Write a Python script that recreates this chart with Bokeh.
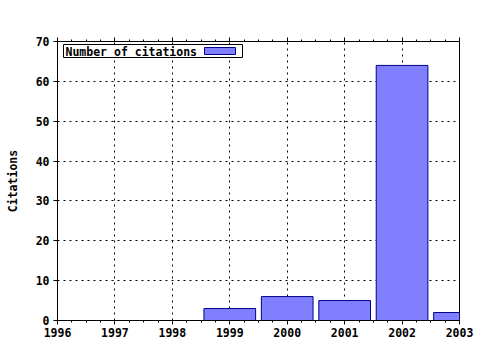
from bokeh.plotting import figure
from bokeh.models import LinearAxis, Range1d, BoxAnnotation, Label, SingleIntervalTicker, CustomJSTickFormatter
from bokeh.embed import file_html
from bokeh.resources import INLINE

# ---- data ----
years = [1999, 2000, 2001, 2002, 2003]
citations = [3, 6, 5, 64, 2]
x_start, x_end = 1996, 2003
y_start, y_end = 0, 70
legend_label = "Number of citations"
y_label = "Citations"

# ---- layout ----
W, H = 480, 350
L, R, T, B = 57, 21, 41, 30
FONT = "DejaVu Sans Mono"
FS = "11.5px"
BAR_FILL = "#8080ff"
BAR_LINE = "#00008c"

p = figure(width=W, height=H, x_range=Range1d(x_start, x_end), y_range=Range1d(y_start, y_end),
           output_backend="svg", toolbar_location=None,
           min_border_left=L, min_border_right=R, min_border_top=T, min_border_bottom=B)
p.background_fill_color = "white"
p.border_fill_color = "white"
p.outline_line_color = "black"
p.outline_line_width = 1

xticker = SingleIntervalTicker(interval=1, num_minor_ticks=4)
yticker = SingleIntervalTicker(interval=10, num_minor_ticks=0)

p.xaxis.ticker = xticker
p.yaxis.ticker = yticker
p.xgrid.ticker = xticker
p.ygrid.ticker = yticker
for g in (p.xgrid, p.ygrid):
    g.grid_line_color = "black"
    g.grid_line_dash = "2 4"
    g.grid_line_width = 1
    g.grid_line_alpha = 1

for ax in (p.xaxis[0], p.yaxis[0]):
    ax.axis_line_color = "black"
    ax.major_tick_line_color = "black"
    ax.minor_tick_line_color = "black"
    ax.major_tick_in = 0
    ax.major_tick_out = 4
    ax.minor_tick_in = 0
    ax.minor_tick_out = 2
    ax.major_label_text_font = FONT
    ax.major_label_text_font_style = "bold"
    ax.major_label_text_font_size = FS
    ax.major_label_text_color = "black"

p.xaxis.major_label_standoff = 3
p.yaxis.major_label_standoff = 4
p.yaxis.axis_label = y_label
p.yaxis.axis_label_text_font = FONT
p.yaxis.axis_label_text_font_style = "bold"
p.yaxis.axis_label_text_font_size = FS
p.yaxis.axis_label_text_color = "black"
p.yaxis.axis_label_standoff = 13

# mirrored tick marks on the top edge, without labels
top = LinearAxis(ticker=xticker, formatter=CustomJSTickFormatter(code="return ''"),
                 axis_line_color=None,
                 major_tick_in=0, major_tick_out=4, minor_tick_in=0, minor_tick_out=2,
                 major_tick_line_color="black", minor_tick_line_color="black",
                 major_label_standoff=0)
p.add_layout(top, "above")

p.vbar(x=years, top=citations, width=0.9, bottom=0,
       fill_color=BAR_FILL, line_color=BAR_LINE, line_width=1)

# ---- legend (gnuplot style: label then swatch) ----
fw = W - L - R
fh = H - T - B
def px_x(px):
    return x_start + (px - L) / fw * (x_end - x_start)
def px_y(py):
    return y_end - (py - T) / fh * (y_end - y_start)

p.add_layout(BoxAnnotation(left=px_x(63), right=px_x(242), top=px_y(44), bottom=px_y(57),
                           fill_color="white", fill_alpha=1, line_color="black", line_alpha=1, line_width=1))
p.add_layout(BoxAnnotation(left=px_x(204), right=px_x(235), top=px_y(47), bottom=px_y(54),
                           fill_color=BAR_FILL, fill_alpha=1, line_color=BAR_LINE, line_alpha=1, line_width=1))
p.add_layout(Label(x=px_x(65), y=px_y(51), text=legend_label, text_font=FONT, text_font_style="bold",
                   text_font_size=FS, text_baseline="middle", text_align="left", text_color="black"))

open("out.html", "w").write(file_html(p, INLINE))
